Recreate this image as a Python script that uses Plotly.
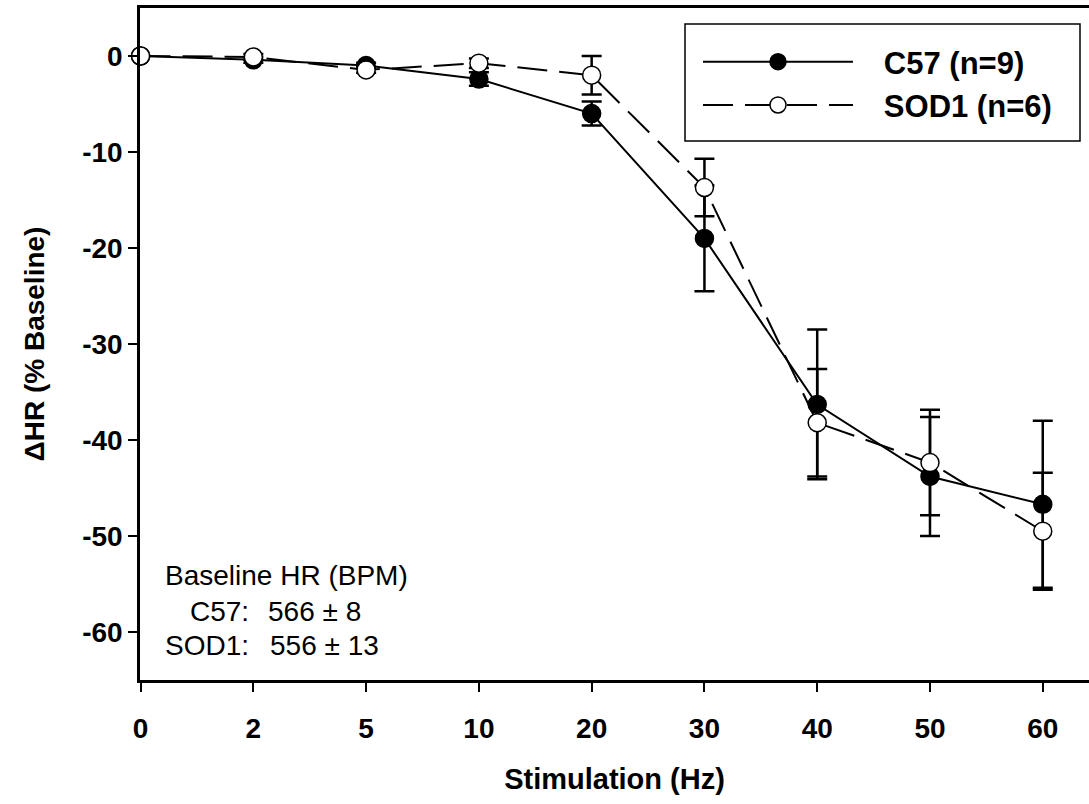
import plotly.graph_objects as go

# ---- data ----
freq_labels = ["0", "2", "5", "10", "20", "30", "40", "50", "60"]
c57_mean = [0.0, -0.4, -1.0, -2.4, -6.0, -19.0, -36.3, -43.8, -46.7]
c57_sem = [0.0, 0.3, 0.3, 0.7, 1.25, 5.5, 7.8, 6.2, 8.7]
sod1_mean = [0.0, -0.1, -1.45, -0.75, -2.0, -13.7, -38.2, -42.35, -49.5]
sod1_sem = [0.0, 0.3, 0.3, 0.5, 2.0, 3.0, 5.6, 5.5, 6.1]
y_tickvals = [0, -10, -20, -30, -40, -50, -60]
y_ticktext = ["0", "-10", "-20", "-30", "-40", "-50", "-60"]

FONT = "Liberation Sans, Arial, sans-serif"
W, H = 1089, 804
L, R, T, B = 140, 0, 8, 124
pw, ph = W - L - R, H - T - B

def px(x):
    return (x - L) / pw

def py(y):
    return (H - B - y) / ph

NB = "\u00a0\u00a0\u00a0"

fig = go.Figure()
fig.add_trace(go.Scatter(
    x=freq_labels, y=c57_mean, name=NB + "C57 (n=9)", mode="lines+markers",
    line=dict(color="black", width=2),
    marker=dict(symbol="circle", size=18, color="black", line=dict(color="black", width=1.5)),
    error_y=dict(type="data", array=c57_sem, visible=True, color="black", thickness=2.5, width=10),
    legendgroup="a", cliponaxis=False,
))
fig.add_trace(go.Scatter(
    x=freq_labels, y=sod1_mean, name=NB + "SOD1 (n=6)", mode="lines+markers",
    line=dict(color="black", width=2, dash="30px,12px"),
    marker=dict(symbol="circle", size=18, color="white", line=dict(color="black", width=1.5)),
    error_y=dict(type="data", array=sod1_sem, visible=True, color="black", thickness=2.5, width=10),
    legendgroup="b", cliponaxis=False,
))

fig.update_layout(
    width=W, height=H,
    margin=dict(l=L, r=R, t=T, b=B, pad=0),
    paper_bgcolor="white", plot_bgcolor="white",
    font=dict(family=FONT, color="black"),
    showlegend=True,
    legend=dict(
        x=px(698), y=py(35), xanchor="left", yanchor="top",
        bgcolor="rgba(0,0,0,0)", borderwidth=0,
        font=dict(family=FONT, size=31, color="black", weight="bold"),
        itemwidth=150, tracegroupgap=0,
    ),
    xaxis=dict(
        type="category", range=[-0.005, 8.41],
        showline=True, linecolor="black", linewidth=2.5, mirror=True,
        ticks="outside", ticklen=9, tickwidth=1.5, tickcolor="black",
        showgrid=False, zeroline=False,
        tickfont=dict(family=FONT, size=28, weight="bold"),
        ticklabelstandoff=13,
        title=dict(text="Stimulation (Hz)", font=dict(family=FONT, size=29, weight="bold"), standoff=26),
    ),
    yaxis=dict(
        range=[-65, 5],
        tickvals=y_tickvals, ticktext=y_ticktext,
        showline=True, linecolor="black", linewidth=2.5, mirror=False,
        ticks="outside", ticklen=9, tickwidth=1.5, tickcolor="black",
        showgrid=False, zeroline=False,
        tickfont=dict(family=FONT, size=28, weight="bold"),
        ticklabelstandoff=0,
        title=dict(text="ΔHR (% Baseline)", font=dict(family=FONT, size=28, weight="bold"), standoff=30),
    ),
)

# legend box
fig.add_shape(type="rect", xref="paper", yref="paper",
              x0=px(685), x1=px(1080), y0=py(141), y1=py(24),
              line=dict(color="black", width=1.5), fillcolor="rgba(0,0,0,0)")

# baseline HR annotation
ann_font = dict(family=FONT, size=28, color="black")
for text, xx, yy in [
    ("Baseline HR (BPM)", 163, 575),
    ("C57:", 188, 611),
    ("566 ± 8", 266, 611),
    ("SOD1:", 163, 645),
    ("556 ± 13", 268, 645),
]:
    fig.add_annotation(text=text, x=px(xx), y=py(yy), xref="paper", yref="paper",
                       xanchor="left", yanchor="middle", showarrow=False, font=ann_font)

fig.write_html("out.html")
